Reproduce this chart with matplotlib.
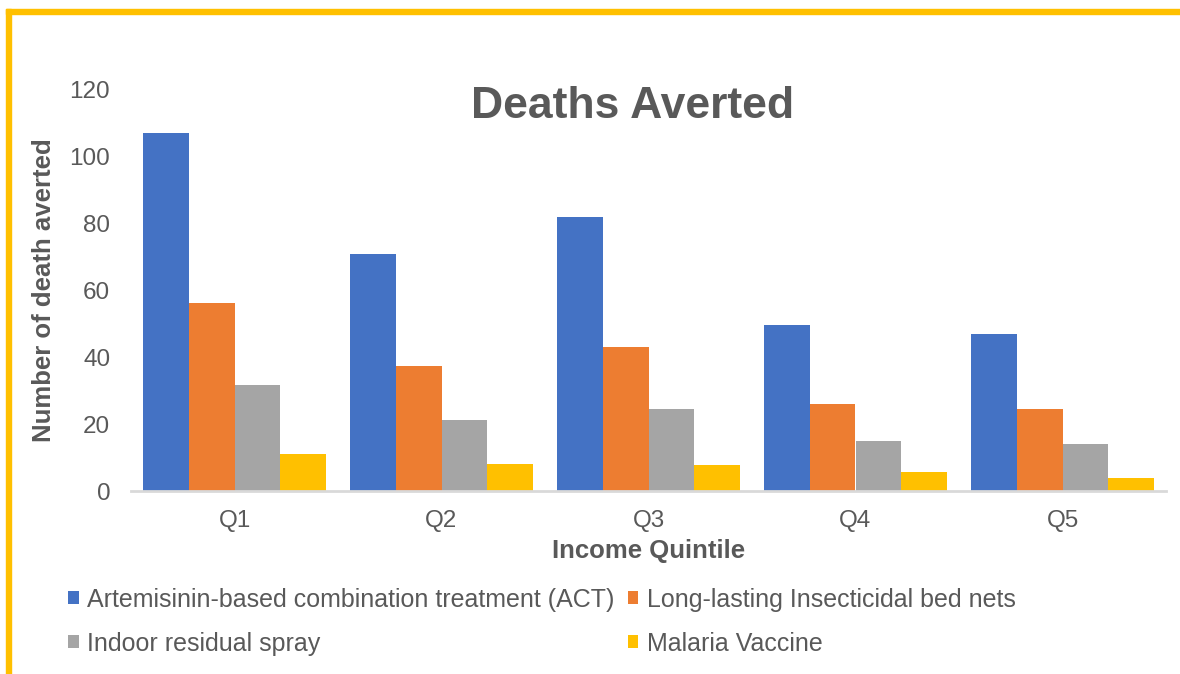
import matplotlib
matplotlib.use("Agg")
import matplotlib.pyplot as plt
import numpy as np
from matplotlib.patches import Rectangle

plt.rcParams['font.family'] = ['Liberation Sans', 'DejaVu Sans']

categories = ["Q1", "Q2", "Q3", "Q4", "Q5"]
series_names = ["Artemisinin-based combination treatment (ACT)",
                "Long-lasting Insecticidal bed nets",
                "Indoor residual spray",
                "Malaria Vaccine"]
act = [107, 71, 82, 49.7, 47]
llin = [56.3, 37.4, 43.1, 26, 24.6]
irs = [31.7, 21.3, 24.6, 15, 14.1]
vaccine = [11.1, 8.1, 7.8, 5.7, 3.9]
colors = ["#4472C4", "#ED7D31", "#A5A5A5", "#FFC000"]
yticks = [0, 20, 40, 60, 80, 100, 120]

text_color = "#595959"
fig = plt.figure(figsize=(11.8, 6.74), dpi=100)
ax = fig.add_axes([131/1180, 1-491/674, (1166-131)/1180, (491-90)/674])

x = np.arange(len(categories))
bw = 0.222
data = [act, llin, irs, vaccine]
handles = []
for i, (vals, c, name) in enumerate(zip(data, colors, series_names)):
    h = ax.bar(x + (i - 1.5) * bw, vals, width=bw, color=c, label=name, linewidth=0)
    handles.append(h)

ax.set_xlim(-0.5, len(categories) - 0.5)
ax.set_ylim(0, 120)
ax.set_yticks(yticks)
ax.set_xticks(x)
ax.set_xticklabels(categories)
for s in ["top", "right", "left"]:
    ax.spines[s].set_visible(False)
ax.spines["bottom"].set_color("#D9D9D9")
ax.spines["bottom"].set_linewidth(2)
ax.tick_params(axis="both", length=0, labelsize=17.5, colors=text_color)
ax.tick_params(axis="y", pad=15)
ax.tick_params(axis="x", pad=14)

ax.set_ylabel("Number of death averted", fontsize=18.5, fontweight="bold", color=text_color, labelpad=10)
ax.set_xlabel("Income Quintile", fontsize=18.5, fontweight="bold", color=text_color, labelpad=5)
fig.text(633/1180, 1-106.5/674, "Deaths Averted", fontsize=32, fontweight="bold",
         color=text_color, ha="center", va="center")

order = [0, 2, 1, 3]
leg = fig.legend([handles[k] for k in order], [series_names[k] for k in order],
                 ncol=2, loc="upper left", bbox_to_anchor=(68/1180, 1-587.5/674),
                 frameon=False, fontsize=18, handlelength=0.42, handleheight=0.42,
                 handletextpad=0.35, columnspacing=0.52, labelspacing=0.81,
                 borderaxespad=0, borderpad=0)
for t in leg.get_texts():
    t.set_color(text_color)

border = "#FFC000"
fig.patches.append(Rectangle((6/1180, 0), 5/1180, 1-9/674, transform=fig.transFigure,
                             color=border, zorder=10))
fig.patches.append(Rectangle((6/1180, 1-14/674), 1-6/1180, 5/674, transform=fig.transFigure,
                             color=border, zorder=10))

fig.savefig("out.png", dpi=100, facecolor="white")
